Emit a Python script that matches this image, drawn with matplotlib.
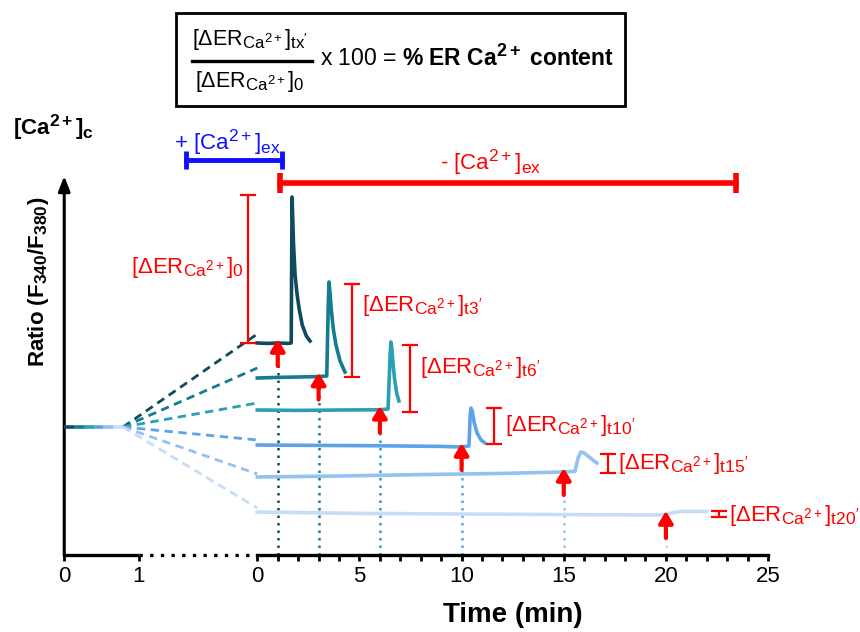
import matplotlib
matplotlib.use("Agg")
import matplotlib.pyplot as plt
import matplotlib._mathtext as mathtext_impl
from matplotlib.patches import Rectangle
from matplotlib.lines import Line2D

plt.rcParams["font.family"] = ["Liberation Sans", "DejaVu Sans"]
plt.rcParams["mathtext.fontset"] = "custom"
plt.rcParams["mathtext.rm"] = "Liberation Sans"
plt.rcParams["mathtext.it"] = "Liberation Sans:italic"
plt.rcParams["mathtext.bf"] = "Liberation Sans:bold"
plt.rcParams["mathtext.sf"] = "Liberation Sans"
# larger sub/superscripts, closer to the original figure
mathtext_impl.SHRINK_FACTOR = 0.78

# ---- data (time in min, ratio F340/F380 in arbitrary units) ----
stim_times = [1, 3, 6, 10, 15, 20]
sub_labels = ["0", "t3'", "t6'", "t10'", "t15'", "t20'"]
colors = ["#0e4b5c", "#157b8f", "#2b9fb3", "#5ea3ea", "#94c1f1", "#c7dcf5"]

trace0_t = [0, 0.5, 1.0, 1.5, 1.66, 1.70, 1.73, 1.77, 1.85, 1.95, 2.05, 2.2, 2.4, 2.58]
trace0_r = [1.42, 1.418, 1.42, 1.418, 1.42, 2.15, 2.06, 1.92, 1.76, 1.66, 1.59, 1.51, 1.455, 1.43]
trace3_t = [0, 1.0, 2.0, 3.0, 3.40, 3.47, 3.51, 3.55, 3.62, 3.72, 3.85, 4.05, 4.29]
trace3_r = [1.245, 1.248, 1.25, 1.252, 1.255, 1.60, 1.725, 1.68, 1.59, 1.49, 1.41, 1.33, 1.275]
trace6_t = [0, 2.0, 4.0, 6.0, 6.40, 6.50, 6.54, 6.58, 6.64, 6.72, 6.82, 6.93]
trace6_r = [1.085, 1.083, 1.085, 1.086, 1.09, 1.36, 1.425, 1.40, 1.32, 1.24, 1.17, 1.13]
trace10_t = [0, 3.0, 6.0, 9.0, 10.0, 10.36, 10.42, 10.46, 10.52, 10.62, 10.76, 10.95, 11.14]
trace10_r = [0.91, 0.908, 0.906, 0.903, 0.90, 0.905, 1.06, 1.095, 1.08, 1.02, 0.97, 0.935, 0.92]
trace15_t = [0, 4.0, 8.0, 12.0, 15.0, 15.55, 15.7, 15.84, 16.0, 16.3, 16.62]
trace15_r = [0.75, 0.755, 0.762, 0.768, 0.775, 0.778, 0.845, 0.875, 0.87, 0.845, 0.82]
trace20_t = [0, 5.0, 10.0, 15.0, 19.7, 20.3, 20.7, 22.0]
trace20_r = [0.575, 0.568, 0.565, 0.562, 0.56, 0.57, 0.578, 0.578]
traces = [(trace0_t, trace0_r), (trace3_t, trace3_r), (trace6_t, trace6_r),
          (trace10_t, trace10_r), (trace15_t, trace15_r), (trace20_t, trace20_r)]

# dashed extrapolation from the pre-period to the start of each trace
pre_baseline_t = [0, 0.79]
pre_baseline_r = 1.0
dash_end_r = [1.465, 1.295, 1.12, 0.935, 0.765, 0.595]

# ER release amplitude brackets
bracket_x = [-0.46, 4.64, 7.48, 11.6, 17.17, 22.6]
bracket_lo = [1.42, 1.25, 1.075, 0.915, 0.77, 0.55]
bracket_hi = [2.16, 1.715, 1.41, 1.095, 0.865, 0.58]
label_y = [1.795, 1.61, 1.295, 1.005, 0.82, 0.56]

tick_pos_main = [0, 5, 10, 15, 20, 25]
tick_lab_pre = ["0", "1"]

# extracellular Ca2+ periods (plot x units)
add_ca = [-3.49, 1.21]
remove_ca = [1.11, 23.43]

# ---- layout ----
PRE_X0 = -9.45      # plot position of pre-period time 0
PRE_SCALE = 3.645   # plot units per pre-period minute
AXIS_Y = 0.36
RED = "#ff0000"
BLUE = "#1010ff"


def pre_x(t):
    return PRE_X0 + t * PRE_SCALE


def level_at(tt, rr, t):
    k = min(range(len(tt)), key=lambda j: abs(tt[j] - t))
    return rr[k]


fig = plt.figure(figsize=(8.6, 6.32), dpi=100)
ax = fig.add_axes([0, 0, 1, 1])
ax.set_xlim(-12.594, 29.50)
ax.set_ylim(-0.025, 3.135)
for s in ["left", "right", "top"]:
    ax.spines[s].set_visible(False)
ax.set_yticks([])

# x axis: main part is the real spine
ax.spines["bottom"].set_position(("data", AXIS_Y))
ax.spines["bottom"].set_bounds(0, 25)
ax.spines["bottom"].set_linewidth(2.4)
ax.set_xticks([pre_x(0), pre_x(1)] + tick_pos_main)
ax.set_xticklabels(tick_lab_pre + [str(v) for v in tick_pos_main], fontsize=16)
ax.set_xticks(range(1, 25), minor=True)
ax.tick_params(axis="x", which="both", direction="out", length=4, width=2, pad=4)

# pre-period axis segment + dotted break
ax.plot([pre_x(0), pre_x(1)], [AXIS_Y, AXIS_Y], color="black", lw=2.4,
        solid_capstyle="butt")
ax.plot([pre_x(1), 0], [AXIS_Y, AXIS_Y], color="black", lw=2.4,
        linestyle=(0, (1, 2.2)))

# y axis arrow
ax.annotate("", xy=(PRE_X0, 2.255), xytext=(PRE_X0, AXIS_Y - 0.005),
            arrowprops=dict(arrowstyle="-|>,head_length=0.9,head_width=0.35",
                            color="black", lw=2.2, shrinkA=0, shrinkB=0))
ax.text(-10.73, 1.725, r"$\mathbf{Ratio\ (F_{340}/F_{380})}$", rotation=90,
        ha="center", va="center", fontsize=16)
ax.text(-11.96, 2.5, r"$\mathbf{[Ca^{2+}]_c}$", ha="left", va="center",
        fontsize=16)
ax.text(12.5, 0.06, "Time (min)", ha="center", va="center", fontsize=20,
        fontweight="bold")

# pre-period baseline (all traces overlap here)
n = len(colors)
x0, x1 = pre_x(pre_baseline_t[0]), pre_x(pre_baseline_t[1])
for i, c in enumerate(colors):
    xa = x0 + (x1 - x0) * i / n
    xb = x0 + (x1 - x0) * (i + 1) / n
    ax.plot([xa, xb], [pre_baseline_r, pre_baseline_r], color=c, lw=2.6,
            solid_capstyle="butt", zorder=3)

label_text = [r"$[\Delta\mathrm{ER}_{\mathrm{Ca}^{2+}}]_{\mathrm{" + s + "}}$"
              for s in sub_labels]

for i, ((tt, rr), c) in enumerate(zip(traces, colors)):
    ts = stim_times[i]
    lev = level_at(tt, rr, ts)
    # dashed connector from the pre-period
    ax.plot([x1, 0], [pre_baseline_r, dash_end_r[i]], color=c, lw=2,
            linestyle=(0, (3, 2)), zorder=2)
    # dotted line from stimulus down to the axis
    ax.plot([ts, ts], [AXIS_Y, lev - 0.02], color=c, lw=1.8,
            linestyle=(0, (1, 2)), zorder=1)
    # trace
    ax.plot(tt, rr, color=c, lw=2.6, zorder=3, solid_joinstyle="round")
    # stimulus arrow
    ax.annotate("", xy=(ts, lev + 0.02), xytext=(ts, lev - 0.115),
                arrowprops=dict(arrowstyle="-|>,head_length=0.7,head_width=0.42",
                                color=RED, lw=3, shrinkA=0, shrinkB=0),
                zorder=5)
    # amplitude bracket
    ax.errorbar([bracket_x[i]], [(bracket_lo[i] + bracket_hi[i]) / 2],
                yerr=[(bracket_hi[i] - bracket_lo[i]) / 2], color=RED,
                lw=1.6, capsize=6, capthick=1.6, zorder=4)
    # first label sits left of its bracket, the rest to the right
    if i == 0:
        ax.text(bracket_x[i] - 0.2, label_y[i], label_text[i], color=RED,
                ha="right", va="center", fontsize=16)
    else:
        ax.text(bracket_x[i] + 0.5, label_y[i], label_text[i], color=RED,
                ha="left", va="center", fontsize=16)

# [Ca2+]ex bars
ax.plot(add_ca, [2.335, 2.335], color=BLUE, lw=3.5,
        marker="|", markersize=13, markeredgewidth=3.5)
ax.text(-1.44, 2.425, r"+ [Ca$^{2+}$]$_{\mathrm{ex}}$",
        color=BLUE, ha="center", va="center", fontsize=16)
ax.plot(remove_ca, [2.22, 2.22], color=RED, lw=4,
        marker="|", markersize=15, markeredgewidth=4)
ax.text(11.4, 2.325, r"- [Ca$^{2+}$]$_{\mathrm{ex}}$", color=RED,
        ha="center", va="center", fontsize=16)

# formula box on top
W, H = 860.0, 632.0
fig.add_artist(Rectangle((176 / W, 1 - 106 / H), (625 - 176) / W, 93 / H,
                         transform=fig.transFigure, fill=False, lw=2,
                         edgecolor="black"))
fig.add_artist(Line2D([192 / W, 312 / W], [1 - 61 / H, 1 - 61 / H],
                      transform=fig.transFigure, color="black", lw=2.4))
fig.text(250 / W, 1 - 40 / H,
         r"$[\Delta\mathrm{ER}_{\mathrm{Ca}^{2+}}]_{\mathrm{tx'}}$",
         ha="center", va="center", fontsize=15.5)
fig.text(250 / W, 1 - 82 / H,
         r"$[\Delta\mathrm{ER}_{\mathrm{Ca}^{2+}}]_{\mathrm{0}}$",
         ha="center", va="center", fontsize=15.5)
fig.text(320 / W, 1 - 58 / H,
         r"x 100 = $\mathbf{\%\ ER\ Ca^{2+}\ content}$",
         ha="left", va="center", fontsize=16.5)

fig.savefig("out.png", dpi=100)
